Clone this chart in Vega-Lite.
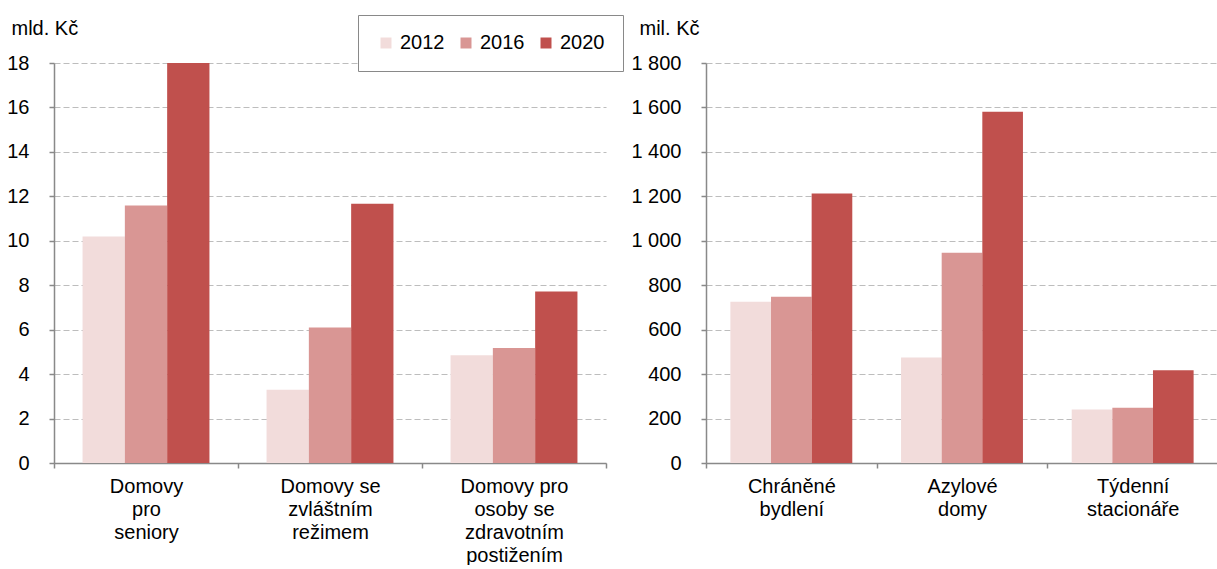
{
  "$schema": "https://vega.github.io/schema/vega-lite/v6.json",
  "padding": {"left": 6, "top": 14, "right": 0, "bottom": 0},
  "autosize": {"type": "pad"},
  "bounds": "flush",
  "spacing": 100,
  "config": {
    "font": "Liberation Sans",
    "view": {"stroke": null},
    "axis": {
      "labelFont": "Liberation Sans",
      "titleFont": "Liberation Sans",
      "labelFontSize": 20,
      "titleFontSize": 20,
      "labelColor": "#000000",
      "titleColor": "#000000",
      "titleFontWeight": "normal",
      "domainColor": "#898989",
      "domainWidth": 1.5,
      "tickColor": "#898989",
      "tickWidth": 1.5,
      "tickSize": 5
    },
    "legend": {"labelFont": "Liberation Sans"}
  },
  "datasets": {
    "left": [
      {"kategorie": "Domovy|pro|seniory", "rok": "2012", "hodnota": 10.19},
      {"kategorie": "Domovy|pro|seniory", "rok": "2016", "hodnota": 11.59},
      {"kategorie": "Domovy|pro|seniory", "rok": "2020", "hodnota": 18.0},
      {"kategorie": "Domovy se|zvláštním|režimem", "rok": "2012", "hodnota": 3.3},
      {"kategorie": "Domovy se|zvláštním|režimem", "rok": "2016", "hodnota": 6.1},
      {"kategorie": "Domovy se|zvláštním|režimem", "rok": "2020", "hodnota": 11.67},
      {"kategorie": "Domovy pro|osoby se|zdravotním|postižením", "rok": "2012", "hodnota": 4.85},
      {"kategorie": "Domovy pro|osoby se|zdravotním|postižením", "rok": "2016", "hodnota": 5.17},
      {"kategorie": "Domovy pro|osoby se|zdravotním|postižením", "rok": "2020", "hodnota": 7.72}
    ],
    "right": [
      {"kategorie": "Chráněné|bydlení", "rok": "2012", "hodnota": 726},
      {"kategorie": "Chráněné|bydlení", "rok": "2016", "hodnota": 748},
      {"kategorie": "Chráněné|bydlení", "rok": "2020", "hodnota": 1213},
      {"kategorie": "Azylové|domy", "rok": "2012", "hodnota": 475},
      {"kategorie": "Azylové|domy", "rok": "2016", "hodnota": 946},
      {"kategorie": "Azylové|domy", "rok": "2020", "hodnota": 1581},
      {"kategorie": "Týdenní|stacionáře", "rok": "2012", "hodnota": 241},
      {"kategorie": "Týdenní|stacionáře", "rok": "2016", "hodnota": 249},
      {"kategorie": "Týdenní|stacionáře", "rok": "2020", "hodnota": 417}
    ]
  },
  "hconcat": [
    {
      "width": 552,
      "height": 400,
      "data": {"name": "left"},
      "mark": {"type": "bar"},
      "encoding": {
        "x": {
          "field": "kategorie", "type": "nominal", "sort": null,
          "scale": {"paddingInner": 0, "paddingOuter": 0},
          "axis": {
            "title": null, "labelAngle": 0, "labelExpr": "split(datum.label, '|')",
            "tickBand": "extent", "labelLineHeight": 23, "labelPadding": 8,
            "labelBaseline": "top", "grid": false
          }
        },
        "xOffset": {"field": "rok", "type": "nominal", "scale": {"paddingInner": 0, "paddingOuter": 0.675}},
        "y": {
          "field": "hodnota", "type": "quantitative",
          "scale": {"domain": [0, 18], "nice": false},
          "axis": {
            "values": [0, 2, 4, 6, 8, 10, 12, 14, 16, 18],
            "title": "mld. Kč", "titleAngle": 0, "titleAlign": "left", "titleBaseline": "alphabetic",
            "titleX": -43, "titleY": -29, "labelPadding": 20,
            "grid": true, "gridColor": "#bdbdbd", "gridDash": [6, 3], "gridWidth": 1.2
          }
        },
        "color": {
          "field": "rok", "type": "nominal",
          "scale": {"domain": ["2012", "2016", "2020"], "range": ["#F2DCDB", "#D99694", "#C0504D"]},
          "legend": {
            "orient": "none", "legendX": 304, "legendY": -48, "direction": "horizontal",
            "title": null, "symbolType": "square", "symbolSize": 121, "symbolStrokeWidth": 0,
            "symbolOpacity": 1, "labelFontSize": 20, "labelColor": "#000000", "labelOffset": 4,
            "columnPadding": 11, "padding": 18, "strokeColor": "#898989", "fillColor": "#ffffff"
          }
        }
      }
    },
    {
      "width": 512,
      "height": 400,
      "data": {"name": "right"},
      "mark": {"type": "bar"},
      "encoding": {
        "x": {
          "field": "kategorie", "type": "nominal", "sort": null,
          "scale": {"paddingInner": 0, "paddingOuter": 0},
          "axis": {
            "title": null, "labelAngle": 0, "labelExpr": "split(datum.label, '|')",
            "tickBand": "extent", "labelLineHeight": 23, "labelPadding": 8,
            "labelBaseline": "top", "grid": false
          }
        },
        "xOffset": {"field": "rok", "type": "nominal", "scale": {"paddingInner": 0, "paddingOuter": 0.6}},
        "y": {
          "field": "hodnota", "type": "quantitative",
          "scale": {"domain": [0, 1800], "nice": false},
          "axis": {
            "values": [0, 200, 400, 600, 800, 1000, 1200, 1400, 1600, 1800],
            "labelExpr": "replace(format(datum.value, ','), ',', ' ')",
            "title": "mil. Kč", "titleAngle": 0, "titleAlign": "left", "titleBaseline": "alphabetic",
            "titleX": -67, "titleY": -29, "labelPadding": 20,
            "grid": true, "gridColor": "#bdbdbd", "gridDash": [6, 3], "gridWidth": 1.2
          }
        },
        "color": {
          "field": "rok", "type": "nominal",
          "scale": {"domain": ["2012", "2016", "2020"], "range": ["#F2DCDB", "#D99694", "#C0504D"]},
          "legend": null
        }
      }
    }
  ],
  "resolve": {
    "scale": {"x": "independent", "y": "independent", "xOffset": "independent"},
    "legend": {"color": "independent"}
  }
}
